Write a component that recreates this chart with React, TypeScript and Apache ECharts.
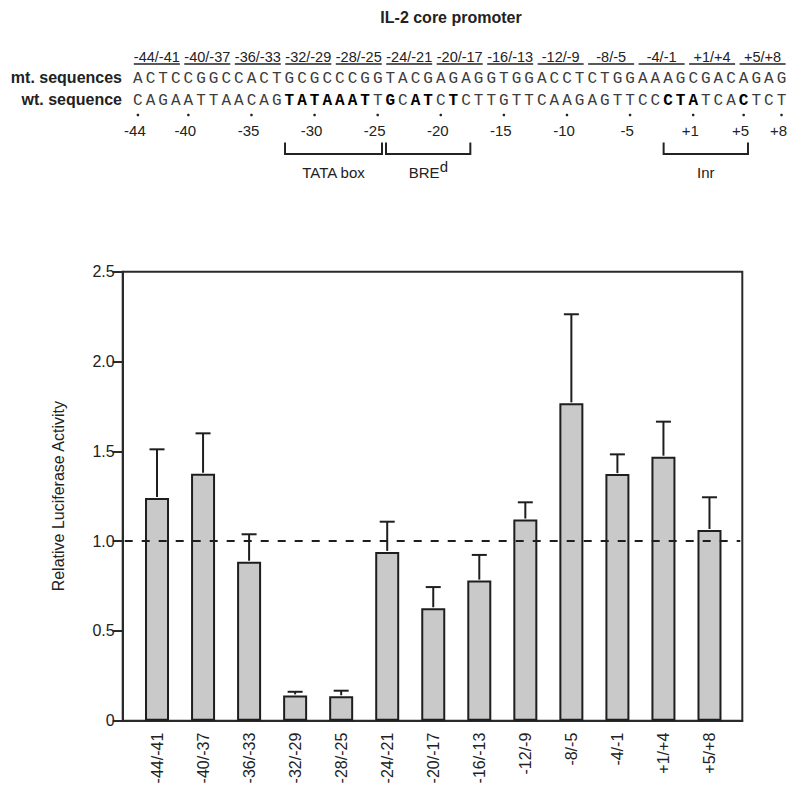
import React, { useEffect, useRef } from 'react';
import * as echarts from 'echarts';

// ---- data ----
const TITLE = 'IL-2 core promoter';
const CATEGORIES = ['-44/-41', '-40/-37', '-36/-33', '-32/-29', '-28/-25', '-24/-21', '-20/-17', '-16/-13', '-12/-9', '-8/-5', '-4/-1', '+1/+4', '+5/+8'];
const ACTIVITY = [1.24, 1.375, 0.885, 0.141, 0.136, 0.94, 0.626, 0.78, 1.12, 1.767, 1.373, 1.47, 1.062];
const ERROR = [0.271, 0.225, 0.153, 0.02, 0.031, 0.168, 0.118, 0.143, 0.096, 0.496, 0.11, 0.195, 0.182];
const BASELINE = 1.0;
const Y_NAME = 'Relative Luciferase Activity';

const MT_LABEL = 'mt. sequences';
const WT_LABEL = 'wt. sequence';
const MT_SEQUENCE = 'ACTCCGGCCACTGCGCCCGGTACGAGAGGTGGACCTCTGGAAAGCGACAGAG';
const WT_SEQUENCE = 'CAGAATTAACAGTATAAATTGCATCTCTTGTTCAAGAGTTCCCTATCACTCT';
const WT_BOLD = [13, 14, 15, 16, 17, 18, 19, 21, 23, 24, 26, 43, 44, 45, 49];
const POSITION_INDEX = [1, 5, 10, 15, 20, 25, 30, 35, 40, 45, 49, 52];
const POSITION_LABELS = ['-44', '-40', '-35', '-30', '-25', '-20', '-15', '-10', '-5', '+1', '+5', '+8'];
const ELEMENT_NAMES = ['TATA box', 'BRE', 'Inr'];
const ELEMENT_SUP = ['', 'd', ''];
const ELEMENT_FROM = [13, 21, 43];
const ELEMENT_TO = [20, 27, 49];

// ---- layout ----
const FONT = '"Liberation Sans", Arial, Helvetica, sans-serif';
const MONO = '"Liberation Mono", "Courier New", monospace';
const INK = '#222';
const X0 = 137.9;
const PITCH = 12.62;
const cx = (p: number) => X0 + (p - 1) * PITCH;

function buildGraphics() {
  const g: any[] = [];
  const txt = (text: string, x: number, y: number, opts: any = {}) =>
    g.push({
      type: 'text', x, y, silent: true,
      style: { text, fill: INK, fontFamily: FONT, fontSize: 15, align: 'center', verticalAlign: 'middle', ...opts },
    });
  const line = (x1: number, y1: number, x2: number, y2: number, w = 2) =>
    g.push({ type: 'line', silent: true, shape: { x1, y1, x2, y2 }, style: { stroke: INK, lineWidth: w } });

  txt(TITLE, 451, 17, { fontSize: 16, fontWeight: 'bold' });

  CATEGORIES.forEach((c, i) => {
    const mid = cx(4 * i + 1) + 1.5 * PITCH;
    txt(c, mid, 57, { fontSize: 14.5 });
    line(mid - 23, 64, mid + 23, 64, 1.3);
  });

  txt(MT_LABEL, 122, 77.6, { fontSize: 16, fontWeight: 'bold', align: 'right' });
  txt(WT_LABEL, 122, 99.8, { fontSize: 16, fontWeight: 'bold', align: 'right' });

  for (let p = 1; p <= MT_SEQUENCE.length; p++) {
    txt(MT_SEQUENCE[p - 1], cx(p), 79, { fontFamily: MONO, fontSize: 16, fill: '#3c3c3c' });
  }
  for (let p = 1; p <= WT_SEQUENCE.length; p++) {
    const bold = WT_BOLD.includes(p);
    txt(WT_SEQUENCE[p - 1], cx(p), 100.5, {
      fontFamily: MONO, fontSize: 16, fill: bold ? '#000' : '#3c3c3c', fontWeight: bold ? 'bold' : 'normal',
    });
  }

  POSITION_INDEX.forEach((p, i) => {
    g.push({ type: 'circle', silent: true, shape: { cx: cx(p), cy: 115, r: 1.3 }, style: { fill: INK } });
    txt(POSITION_LABELS[i], cx(p) - 3, 130.5, { fontSize: 15 });
  });

  ELEMENT_NAMES.forEach((name, i) => {
    const xl = cx(ELEMENT_FROM[i]) - PITCH / 2 + 2;
    const xr = cx(ELEMENT_TO[i]) + PITCH / 2 - 2;
    line(xl, 154, xr, 154);
    line(xl, 142.5, xl, 155);
    line(xr, 142.5, xr, 155);
    const mid = (xl + xr) / 2;
    if (ELEMENT_SUP[i]) {
      const start = mid - 19.5;
      txt(name, start, 172.5, { align: 'left' });
      txt(ELEMENT_SUP[i], start + 31, 166, { align: 'left', fontSize: 15 });
    } else {
      txt(name, mid, 172.5);
    }
  });
  return g;
}

const GRID_TOP = 271.7;
const GRID_H = 449;
const PLOT_LEFT = 122.7;
const PLOT_W = 619.6;
const BAR_LEFT = 134;
const BAR_W = 598.5;

export default function App() {
  const ref = useRef<HTMLDivElement>(null);
  useEffect(() => {
    if (!ref.current) return;
    const chart = echarts.init(ref.current, null, { renderer: 'svg' });
    const errData = CATEGORIES.map((_, i) => [i, ACTIVITY[i], ACTIVITY[i] + ERROR[i]]);
    chart.setOption({
      animation: false,
      backgroundColor: '#fff',
      textStyle: { fontFamily: FONT },
      graphic: buildGraphics(),
      grid: [
        { left: PLOT_LEFT, top: GRID_TOP, width: PLOT_W, height: GRID_H, show: true, borderColor: '#2a2a2a', borderWidth: 2, backgroundColor: 'transparent' },
        { left: BAR_LEFT, top: GRID_TOP, width: BAR_W, height: GRID_H },
      ],
      xAxis: [
        {
          gridIndex: 0, type: 'value', min: 0, max: 1,
          axisLine: { show: true, lineStyle: { color: '#2a2a2a', width: 2 } },
          axisTick: { show: false }, axisLabel: { show: false }, splitLine: { show: false },
        },
        {
          gridIndex: 1, type: 'category', data: CATEGORIES,
          axisLine: { show: false }, axisTick: { show: false }, splitLine: { show: false },
          axisLabel: { interval: 0, rotate: 90, margin: 12, fontSize: 16, color: INK, fontFamily: FONT },
        },
      ],
      yAxis: [
        {
          gridIndex: 0, type: 'value', min: 0, max: 2.5, interval: 0.5,
          axisLine: { show: true, lineStyle: { color: '#2a2a2a', width: 2 } },
          axisTick: { show: true, length: 10, lineStyle: { color: '#2a2a2a', width: 2 } },
          splitLine: { show: false },
          axisLabel: {
            margin: 8, fontSize: 16, color: INK, fontFamily: FONT,
            formatter: (v: number) => (v === 0 ? '0' : v.toFixed(1)),
          },
          name: Y_NAME, nameLocation: 'middle', nameGap: 56,
          nameTextStyle: { fontSize: 16, color: INK, fontFamily: FONT },
        },
        { gridIndex: 1, type: 'value', min: 0, max: 2.5, show: false },
      ],
      series: [
        {
          type: 'bar', xAxisIndex: 1, yAxisIndex: 1, data: ACTIVITY, barWidth: 24,
          itemStyle: { color: '#c9c9c9', borderColor: '#1e1e1e', borderWidth: 2 },
          z: 2,
        },
        {
          type: 'custom', xAxisIndex: 1, yAxisIndex: 1, data: errData, z: 3,
          renderItem: (params: any, api: any) => {
            const i = api.value(0);
            const base = api.coord([i, api.value(1)]);
            const top = api.coord([i, api.value(2)]);
            const st = { stroke: '#1e1e1e', lineWidth: 2 };
            return {
              type: 'group',
              children: [
                { type: 'line', shape: { x1: base[0], y1: base[1] - 1, x2: top[0], y2: top[1] }, style: st },
                { type: 'line', shape: { x1: top[0] - 7.5, y1: top[1], x2: top[0] + 7.5, y2: top[1] }, style: st },
              ],
            };
          },
        },
        {
          type: 'custom', xAxisIndex: 0, yAxisIndex: 0, data: [[0, BASELINE]], z: 5,
          renderItem: (params: any, api: any) => {
            const a = api.coord([0, api.value(1)]);
            const b = api.coord([1, api.value(1)]);
            return {
              type: 'line',
              shape: { x1: a[0] + 2, y1: a[1], x2: b[0] - 2, y2: b[1] },
              style: { stroke: '#1e1e1e', lineWidth: 2, lineDash: [8, 9] },
            };
          },
        },
      ],
    });
    return () => chart.dispose();
  }, []);
  return <div ref={ref} style={{ position: 'fixed', left: 0, top: 0, width: 800, height: 790, background: '#fff' }} />;
}
